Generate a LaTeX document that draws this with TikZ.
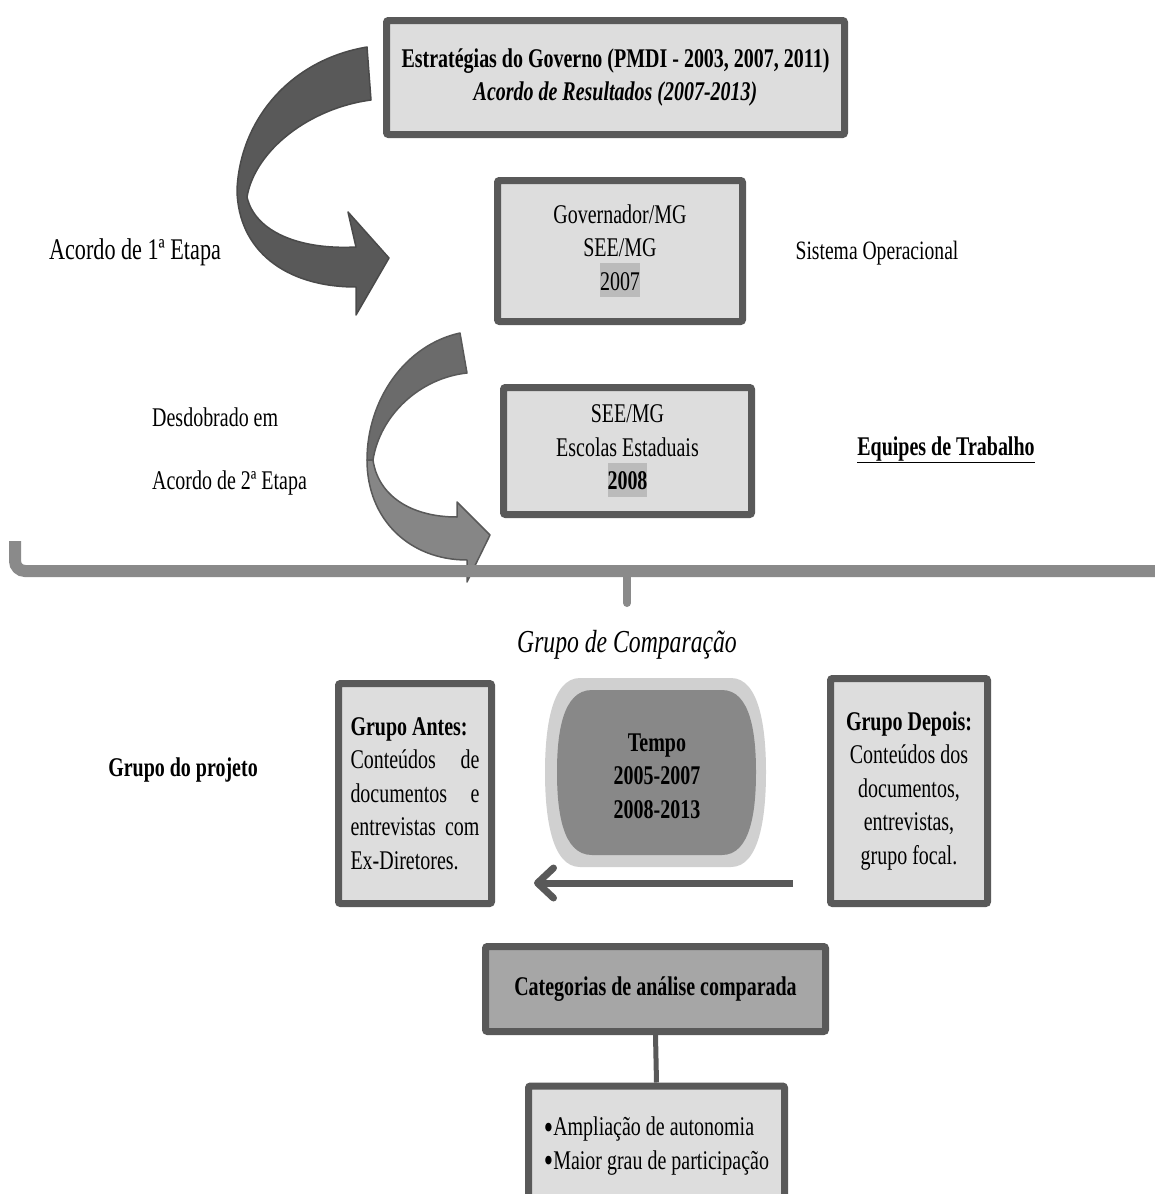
\documentclass[tikz,border=0pt]{standalone}
\usepackage{fontspec}
\setmainfont{Liberation Serif}[FakeStretch=0.74]
\usetikzlibrary{arrows.meta}
\definecolor{edge}{HTML}{595959}
\definecolor{boxfill}{HTML}{DDDDDD}
\definecolor{catfill}{HTML}{A6A6A6}
\definecolor{hl}{HTML}{BBBBBB}
\definecolor{tempoout}{HTML}{D0D0D0}
\definecolor{tempoin}{HTML}{888888}
\definecolor{arrowA}{HTML}{595959}
\definecolor{arrowAedge}{HTML}{4A4A4A}
\definecolor{arrowBup}{HTML}{6B6B6B}
\definecolor{arrowBlow}{HTML}{868686}
\definecolor{bracecol}{HTML}{8A8A8A}
\newcommand\fsA{\fontsize{27}{33.5}\selectfont}
\newcommand\fsB{\fontsize{30}{34}\selectfont}
\newcommand\fsC{\fontsize{26.5}{30}\selectfont}
\newcommand\fsD{\fontsize{32}{34}\selectfont}
\newcommand\hlbox[1]{{\setlength{\fboxsep}{0pt}\colorbox{hl}{\rule[-7pt]{0pt}{34pt}#1}}}
\newcommand\bigbul{{\fontsize{36}{0}\selectfont\raisebox{-3.5pt}{•}}}
\begin{document}
\begin{tikzpicture}[x=1pt,y=-1pt,
  box/.style={draw=edge, line width=7pt, fill=boxfill, rounded corners=2pt, align=center, inner sep=0pt, font=\fsA},
  plain/.style={inner sep=0pt, font=\fsA},
  ribbonA/.style={fill=arrowA, draw=arrowAedge, line width=1.5pt, line join=round},
  ribbonBup/.style={fill=arrowBup, draw=edge, line width=1.5pt, line join=round},
  ribbonBlow/.style={fill=arrowBlow, draw=edge, line width=1.5pt, line join=round},
  bracestyle/.style={draw=bracecol, line width=12pt},
  conn/.style={draw=edge, line width=5pt},
  backarrow/.style={draw=edge, line width=7pt, -{Straight Barb[length=16pt,width=30pt,line cap=round,line join=round]}}
]
\useasboundingbox (0,0) rectangle (1155,1194);
\clip (0,0) rectangle (1155,1194);

% ---- curved arrow 1 (dark)
\path[ribbonA] (367,47) .. controls (290,60) and (240,120) .. (237,190)
  .. controls (238,250) and (285,287) .. (356,287) -- (356,315) -- (389,258) -- (348,212) -- (356,247)
  .. controls (300,250) and (255,232) .. (247,197)
  .. controls (255,150) and (310,108) .. (371,100) -- cycle;

% ---- curved arrow 2 (lighter, twisted)
\path[ribbonBup] (460,333) .. controls (405,345) and (367,400) .. (367,460) -- (373,460)
  .. controls (380,415) and (420,378) .. (467,373) -- cycle;
\path[ribbonBlow] (367,460) .. controls (367,520) and (410,560) .. (467,560) -- (467,582) -- (490,535) -- (457,502) -- (457,517)
  .. controls (410,517) and (378,495) .. (373,460) -- cycle;

% ---- boxes top part
\node[box, minimum width=458pt, minimum height=114pt] (gov) at (615.5,77.5)
  {\textbf{Estratégias do Governo (PMDI - 2003, 2007, 2011)}\\ \textbf{\textit{Acordo de Resultados (2007-2013)}}};
\node[box, minimum width=245pt, minimum height=141pt] (sys) at (620,251)
  {Governador/MG\\ SEE/MG\\ \hlbox{2007}};
\node[box, minimum width=248pt, minimum height=127pt] (see) at (627.5,451)
  {SEE/MG\\ Escolas Estaduais\\ \hlbox{\textbf{2008}}};

% ---- side labels
\node[plain, font=\fsB] (et1) at (135,252) {Acordo de 1ª Etapa};
\node[plain, font=\fsC] (sisop) at (877,253) {Sistema Operacional};
\node[plain, anchor=west] (desd) at (152,417) {Desdobrado em};
\node[plain, anchor=west] (et2) at (152,483) {Acordo de 2ª Etapa};
\node[plain] (equipes) at (946,450) {\textbf{\underline{Equipes de Trabalho}}};

% ---- brace
\coordinate (bl) at (15,541);
\coordinate (bc) at (15,571);
\coordinate (br) at (1165,571);
\coordinate (tick0) at (627,571);
\coordinate (tick1) at (627,603);
\draw[bracestyle, rounded corners=10pt] (bl) -- (bc) -- (br);
\draw[bracestyle, line width=8pt, line cap=round] (tick0) -- (tick1);

\node[plain, font=\fsD\itshape] (gc) at (627,645) {Grupo de Comparação};

% ---- comparison group
\node[plain] (gproj) at (183,770) {\textbf{Grupo do projeto}};

\node[box, minimum width=153pt, minimum height=220pt, align=left] (antes) at (415,793.5)
  {\makebox[129pt][l]{\textbf{Grupo Antes:}}\\
   \makebox[129pt][s]{Conteúdos de}\\
   \makebox[129pt][s]{documentos e}\\
   \makebox[129pt][s]{entrevistas com}\\
   \makebox[129pt][l]{Ex-Diretores.}};

\node[box, minimum width=157pt, minimum height=225pt] (depois) at (909,791)
  {\textbf{Grupo Depois:}\\ Conteúdos dos\\ documentos,\\ entrevistas,\\ grupo focal.};

% tempo shape
\path[fill=tempoout] (580,678) -- (731,678) .. controls (760,678) and (766,730) .. (766,772)
  .. controls (766,815) and (760,867) .. (731,867) -- (580,867)
  .. controls (551,867) and (545,815) .. (545,772) .. controls (545,730) and (551,678) .. (580,678) -- cycle;
\path[fill=tempoin] (592,690) -- (722,690) .. controls (751,690) and (756,735) .. (756,772)
  .. controls (756,810) and (751,855) .. (722,855) -- (592,855)
  .. controls (562,855) and (557,810) .. (557,772) .. controls (557,735) and (562,690) .. (592,690) -- cycle;
\node[plain, align=center, font=\fsA\bfseries] (tempo) at (657,776) {Tempo\\ 2005-2007\\ 2008-2013};

\coordinate (arrS) at (793,883);
\coordinate (arrE) at (534,883);
\draw[backarrow] (arrS) -- (arrE);

% ---- categories
\node[box, fill=catfill, minimum width=340pt, minimum height=85pt] (cat) at (655.5,989)
  {\textbf{Categorias de análise comparada}};
\node[box, minimum width=256pt, minimum height=120pt, align=left] (bot) at (656.5,1146)
  {\bigbul Ampliação de autonomia\\ \bigbul Maior grau de participação};
\draw[conn] (cat.south) -- (bot.north);
\end{tikzpicture}
\end{document}
